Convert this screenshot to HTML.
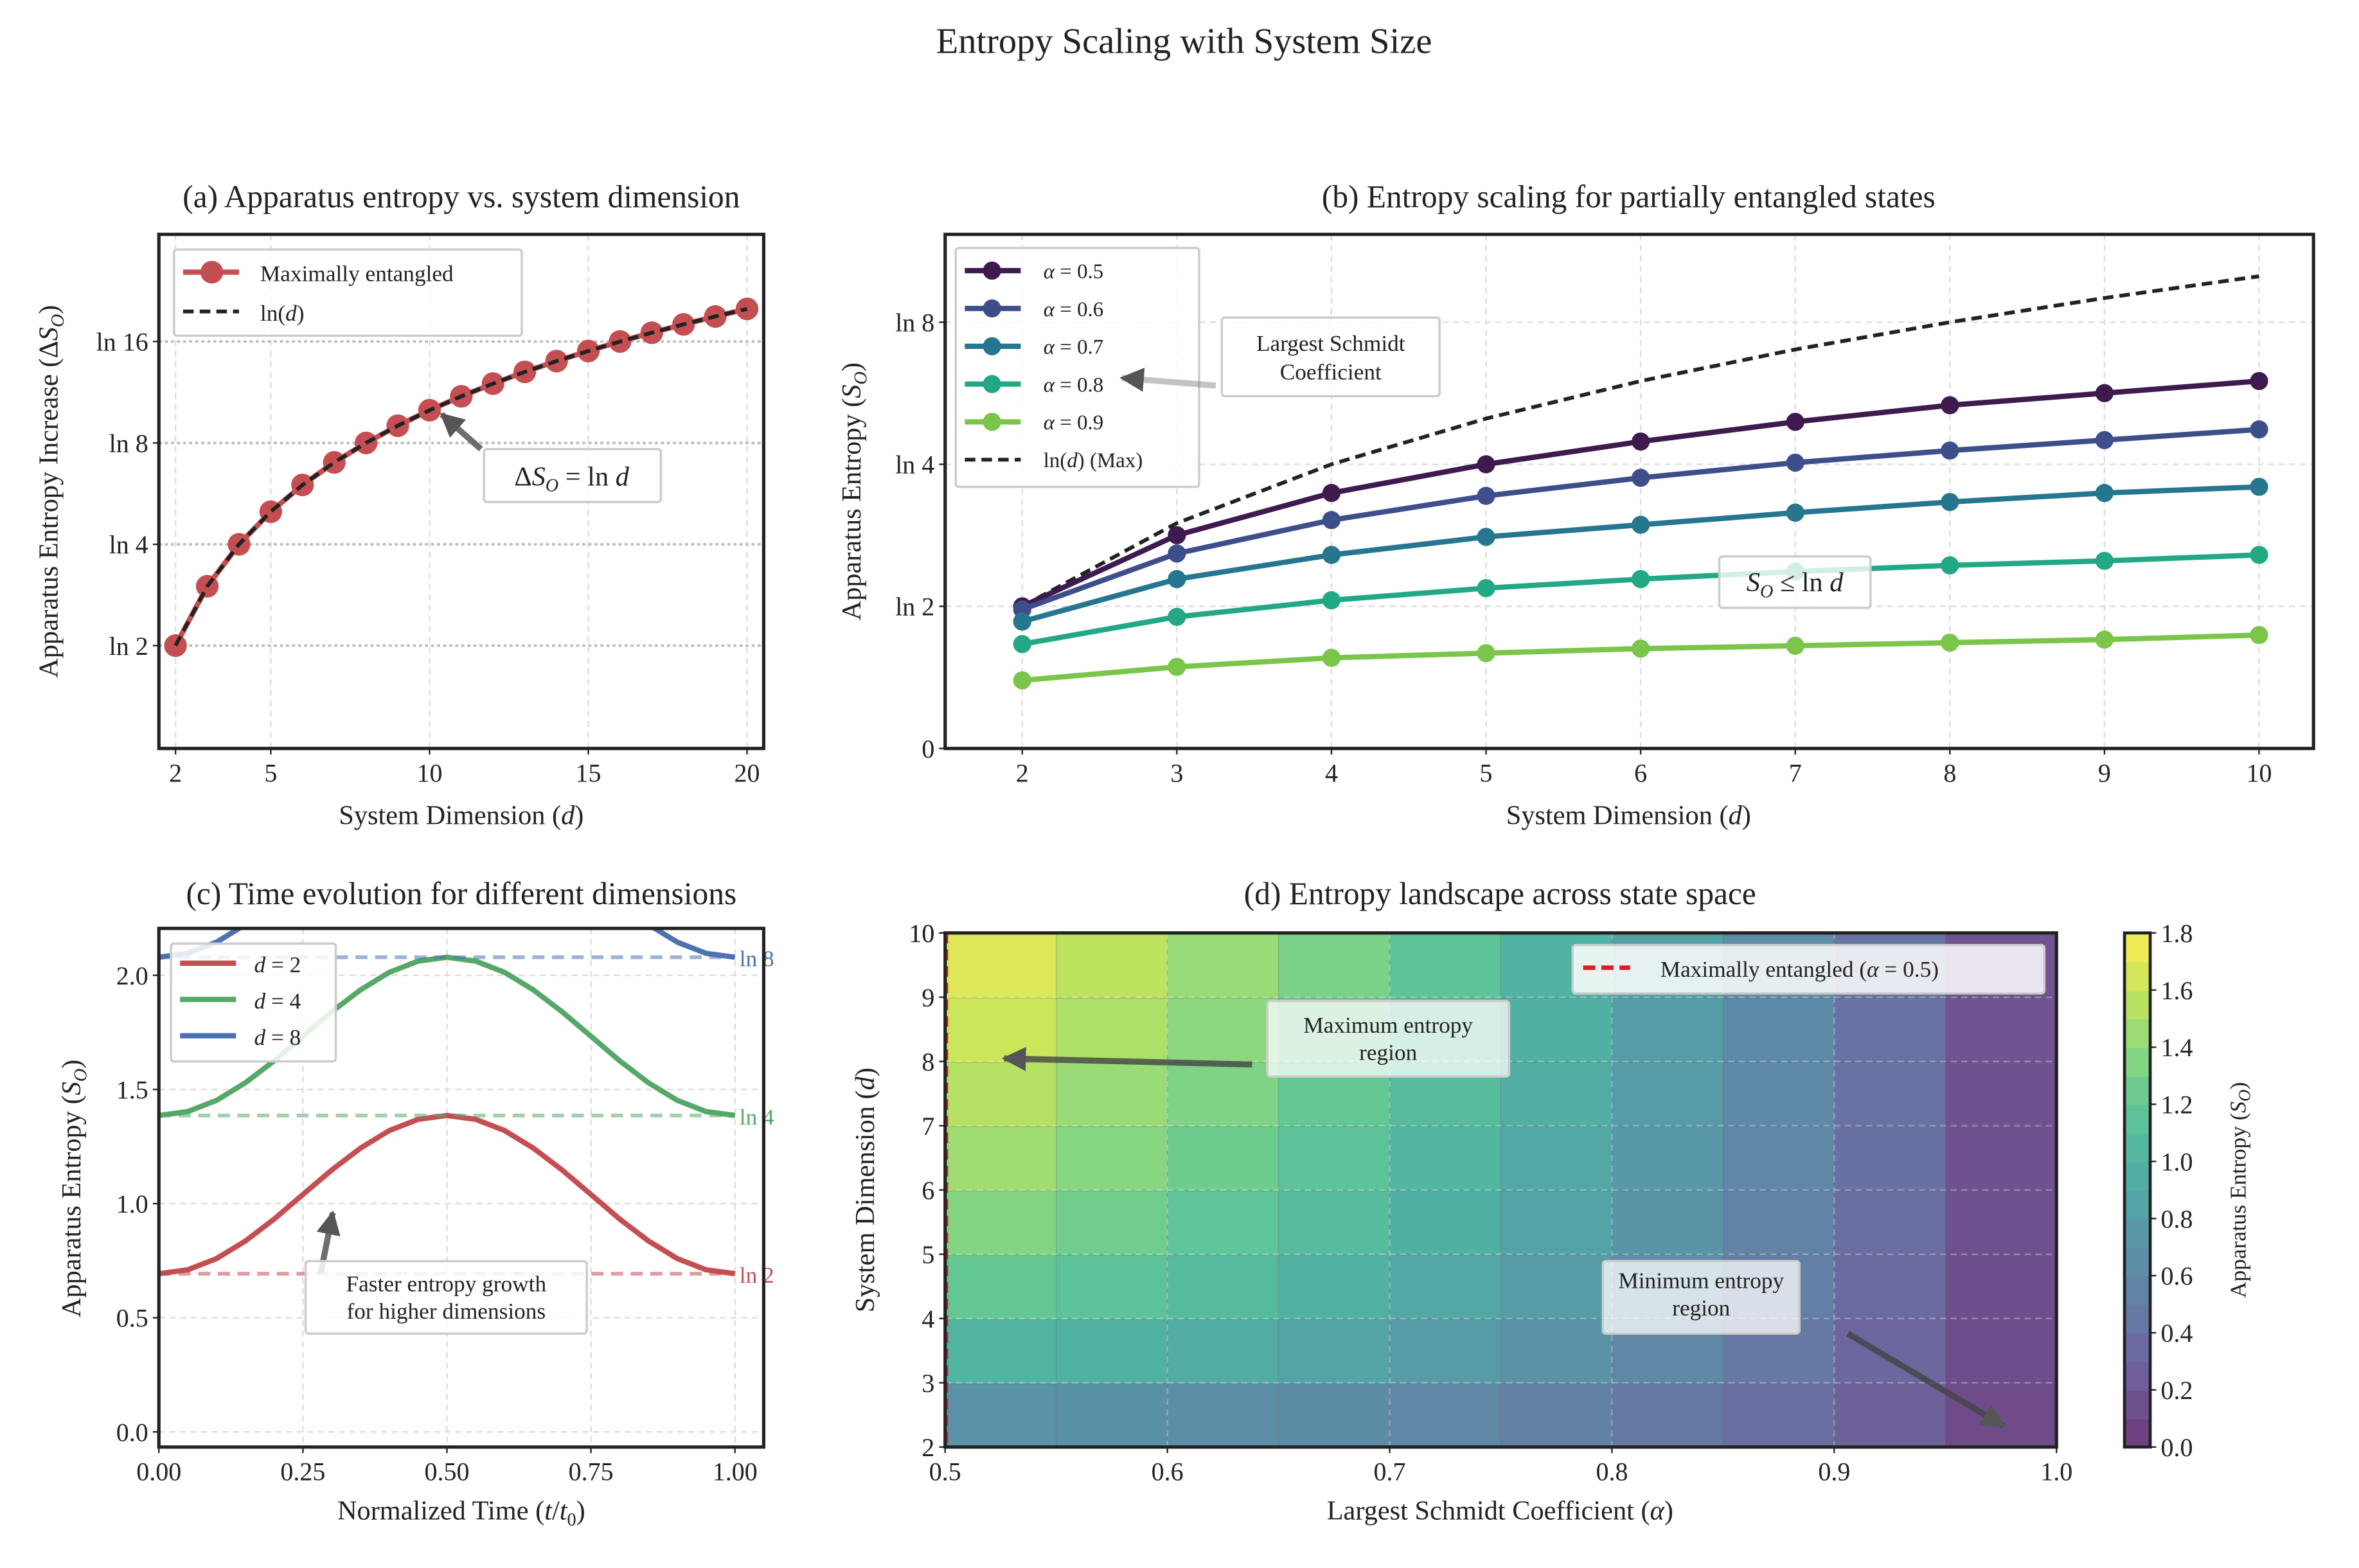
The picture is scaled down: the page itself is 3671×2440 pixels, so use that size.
<!DOCTYPE html>
<html><head><meta charset="utf-8"><style>
html,body{margin:0;padding:0;background:#fff}
svg{display:block}
text{font-family:"Liberation Serif",serif;fill:#222}
</style></head><body>
<svg id="fig" width="3671" height="2440" viewBox="0 0 1560 1037" xmlns="http://www.w3.org/2000/svg">
<defs>
<clipPath id="ca"><rect x="105" y="155" width="400" height="340"/></clipPath>
<clipPath id="cb"><rect x="625" y="155" width="905" height="340"/></clipPath>
<clipPath id="cc"><rect x="105" y="614" width="400" height="343"/></clipPath>
<marker id="ah" viewBox="0 0 10 10" refX="9" refY="5" markerWidth="4" markerHeight="4" orient="auto"><path d="M0,0L10,5L0,10z" fill="#555"/></marker>
</defs>
<text x="783" y="35" font-size="24" text-anchor="middle">Entropy Scaling with System Size</text>
<g id="root"></g>
</svg>
<script>
// Panel (a) data
const aDims=[2,3,4,5,6,7,8,9,10,11,12,13,14,15,16,17,18,19,20];
const aEntropy=[0.693,1.099,1.386,1.609,1.792,1.946,2.079,2.197,2.303,2.398,2.485,2.565,2.639,2.708,2.773,2.833,2.890,2.944,2.996];
const aYTicks=[0.693,1.386,2.079,2.773];
const aYLabels=["ln 2","ln 4","ln 8","ln 16"];
const aXTicks=[2,5,10,15,20];
// Panel (b) data
const bDims=[2,3,4,5,6,7,8,9,10];
const bAlphaLabels=["0.5","0.6","0.7","0.8","0.9"];
const bA05=[0.693,1.040,1.246,1.386,1.497,1.593,1.674,1.733,1.792];
const bA06=[0.678,0.951,1.114,1.232,1.320,1.394,1.453,1.504,1.556];
const bA07=[0.619,0.826,0.944,1.032,1.091,1.150,1.202,1.246,1.276];
const bA08=[0.509,0.642,0.723,0.782,0.826,0.863,0.893,0.915,0.944];
const bA09=[0.332,0.398,0.442,0.465,0.487,0.501,0.516,0.531,0.553];
const bMax=[0.693,1.099,1.386,1.609,1.792,1.946,2.079,2.197,2.303];
const bYTicks=[0,0.693,1.386,2.079];
const bYLabels=["0","ln 2","ln 4","ln 8"];
// Panel (c) data
const cTimes=[0,0.05,0.1,0.15,0.2,0.25,0.3,0.35,0.4,0.45,0.5,0.55,0.6,0.65,0.7,0.75,0.8,0.85,0.9,0.95,1];
const cD2=[0.693,0.710,0.759,0.836,0.932,1.040,1.147,1.243,1.320,1.369,1.386,1.369,1.320,1.243,1.147,1.040,0.932,0.836,0.759,0.710,0.693];
const cD4=[1.386,1.403,1.452,1.529,1.625,1.733,1.840,1.936,2.013,2.062,2.079,2.062,2.013,1.936,1.840,1.733,1.625,1.529,1.452,1.403,1.386];
const cD8=[2.079,2.096,2.145,2.222,2.318,2.426,2.533,2.629,2.706,2.755,2.772,2.755,2.706,2.629,2.533,2.426,2.318,2.222,2.145,2.096,2.079];
const cRefs=[0.693,1.386,2.079];
const cRefLabels=["ln 2","ln 4","ln 8"];
const cYTicks=[0,0.5,1.0,1.5,2.0];
const cXTicks=[0,0.25,0.5,0.75,1.0];
// Panel (d) data
const dAlphaEdges=[0.5,0.55,0.6,0.65,0.7,0.75,0.8,0.85,0.9,0.95,1.0];
const dDimEdges=[2,3,4,5,6,7,8,9,10];
const dRow2=[0.69,0.68,0.66,0.63,0.59,0.53,0.46,0.38,0.27,0.12];
const dRow3=[1.02,0.98,0.92,0.86,0.78,0.69,0.58,0.46,0.32,0.13];
const dRow4=[1.21,1.15,1.07,0.99,0.89,0.78,0.66,0.51,0.35,0.14];
const dRow5=[1.35,1.27,1.18,1.08,0.97,0.85,0.71,0.55,0.37,0.15];
const dRow6=[1.46,1.37,1.26,1.15,1.03,0.90,0.75,0.58,0.39,0.16];
const dRow7=[1.54,1.44,1.33,1.21,1.08,0.94,0.78,0.60,0.40,0.16];
const dRow8=[1.62,1.51,1.39,1.26,1.12,0.97,0.80,0.62,0.41,0.17];
const dRow9=[1.68,1.57,1.44,1.31,1.16,1.00,0.83,0.64,0.42,0.17];
const cbTicks=[0,0.2,0.4,0.6,0.8,1.0,1.2,1.4,1.6,1.8];

const NS="http://www.w3.org/2000/svg";
const root=document.getElementById('root');
function mk(tag,attrs,parent,txt){const e=document.createElementNS(NS,tag);for(const k in attrs)e.setAttribute(k,attrs[k]);if(txt!==undefined)e.textContent=txt;(parent||root).appendChild(e);return e;}
function grp(name){const g=mk('g',{});


return g;}

const axX=d=>116+(d-2)*21, ayY=v=>494-v*96.7;
const bxX=d=>676+(d-2)*102.25, byY=v=>495-v*135.6;
const cxX=t=>105+t*381, cyY=v=>947-v*151;
const dxX=a=>625+(a-0.5)*1470, dyY=d=>957-(d-2)*42.5;
const cbY=v=>957-v/1.8*340;

function frame(g,x,y,w,h){const r=mk('rect',{x:x,y:y,width:w,height:h,fill:'none',stroke:'#222','stroke-width':2.2},g);

}
function vgrid(g,x,y1,y2){mk('line',{x1:x,x2:x,y1:y1,y2:y2,stroke:'#ddd','stroke-width':1,'stroke-dasharray':'4,3'},g);}
function hgrid(g,y,x1,x2){mk('line',{x1:x1,x2:x2,y1:y,y2:y,stroke:'#ddd','stroke-width':1,'stroke-dasharray':'4,3'},g);}
function xtick(g,x,y,lab){mk('line',{x1:x,x2:x,y1:y,y2:y+4,stroke:'#222','stroke-width':1},g);const t=mk('text',{x:x,y:y+22,'font-size':17,'text-anchor':'middle'},g,lab);

}
function ytick(g,x,y,lab){mk('line',{x1:x-4,x2:x,y1:y,y2:y,stroke:'#222','stroke-width':1},g);const t=mk('text',{x:x-7,y:y+6,'font-size':17,'text-anchor':'end'},g,lab);

}
function title(g,x,y,s){const t=mk('text',{x:x,y:y,'font-size':21,'text-anchor':'middle'},g,s);

}
function xlabel(g,x,y,s){const t=mk('text',{x:x,y:y,'font-size':18,'text-anchor':'middle'},g);t.innerHTML=s;

}
function ylabel(g,x,y,s){const t=mk('text',{x:x,y:y,'font-size':18,'text-anchor':'middle',transform:`rotate(-90 ${x} ${y})`},g);t.innerHTML=s;

}
function poly(g,xs,ys,attrs){return mk('polyline',Object.assign({points:xs.map((x,i)=>x+','+ys[i]).join(' '),fill:'none'},attrs),g);}
function box(g,x,y,w,h,op){mk('rect',{x:x,y:y,width:w,height:h,fill:'#fff','fill-opacity':op||0.85,stroke:'#ccc','stroke-width':1.5,rx:2},g);}
function arrow(g,x1,y1,x2,y2,col,op){const l=mk('line',{x1:x1,y1:y1,x2:x2,y2:y2,stroke:col,'stroke-width':4,'stroke-opacity':op,'marker-end':'url(#ah)'},g);

}

// Panel A
{const g=grp('panel-a');
title(g,305,137,'(a) Apparatus entropy vs. system dimension');
aXTicks.forEach(d=>vgrid(g,axX(d),155,495));
aYTicks.forEach(v=>mk('line',{x1:105,x2:505,y1:ayY(v),y2:ayY(v),stroke:'#bbb','stroke-width':1.6,'stroke-dasharray':'2,2'},g));
const cg=mk('g',{'clip-path':'url(#ca)'},g);
const xs=aDims.map(axX), ys=aEntropy.map(ayY);
const s=poly(cg,xs,ys,{stroke:'#c44e52','stroke-width':3.5});


aDims.forEach((d,i)=>{const c=mk('circle',{cx:axX(d),cy:ayY(aEntropy[i]),r:7.5,fill:'#c44e52'},cg);

});
const ln=poly(cg,xs,aDims.map(d=>ayY(Math.log(d))),{stroke:'#222','stroke-width':2.5,'stroke-dasharray':'7,4'});


frame(g,105,155,400,340);
aXTicks.forEach(d=>xtick(g,axX(d),495,String(d)));
aYTicks.forEach((v,i)=>ytick(g,105,ayY(v),aYLabels[i]));
xlabel(g,305,545,'System Dimension (<tspan font-style="italic">d</tspan>)');
ylabel(g,38,325,'Apparatus Entropy Increase (Δ<tspan font-style="italic">S</tspan><tspan font-size="12" font-style="italic" dy="4">O</tspan><tspan dy="-4">)</tspan>');
const lg=grp('legend-a');g.appendChild(lg);
box(lg,115,165,230,57);
mk('line',{x1:121,x2:158,y1:180,y2:180,stroke:'#c44e52','stroke-width':3.5},lg);
mk('circle',{cx:140,cy:180,r:7.5,fill:'#c44e52'},lg);
mk('text',{x:172,y:186,'font-size':15},lg,'Maximally entangled');
mk('line',{x1:121,x2:158,y1:206,y2:206,stroke:'#222','stroke-width':2.5,'stroke-dasharray':'7,4'},lg);
mk('text',{x:172,y:212,'font-size':15},lg).innerHTML='ln(<tspan font-style="italic">d</tspan>)';
arrow(g,318,297,292,274,'#555',0.85);
const ag=grp('annotation-a');g.appendChild(ag);
box(ag,320,297,117,35);
mk('text',{x:378,y:321,'font-size':18,'text-anchor':'middle'},ag).innerHTML='Δ<tspan font-style="italic">S</tspan><tspan font-size="12" font-style="italic" dy="4">O</tspan><tspan dy="-4"> = ln </tspan><tspan font-style="italic">d</tspan>';
}

// Panel B
{const g=grp('panel-b');
title(g,1077,137,'(b) Entropy scaling for partially entangled states');
bDims.forEach(d=>vgrid(g,bxX(d),155,495));
bYTicks.forEach(v=>hgrid(g,byY(v),625,1530));
const cg=mk('g',{'clip-path':'url(#cb)'},g);
const mx=poly(cg,bDims.map(bxX),bMax.map(byY),{stroke:'#222','stroke-width':2.5,'stroke-dasharray':'7,4'});


const series=[bA05,bA06,bA07,bA08,bA09];
const cols2=['#3e1a4f','#3d4e8a','#25768e','#22a884','#7ac54a'];
series.forEach((vals,k)=>{
const p=poly(cg,bDims.map(bxX),vals.map(byY),{stroke:cols2[k],'stroke-width':3.5});


bDims.forEach((d,i)=>{const c=mk('circle',{cx:bxX(d),cy:byY(vals[i]),r:6,fill:cols2[k]},cg);

});
});
frame(g,625,155,905,340);
bDims.forEach(d=>xtick(g,bxX(d),495,String(d)));
bYTicks.forEach((v,i)=>ytick(g,625,byY(v),bYLabels[i]));
xlabel(g,1077,545,'System Dimension (<tspan font-style="italic">d</tspan>)');
ylabel(g,569,325,'Apparatus Entropy (<tspan font-style="italic">S</tspan><tspan font-size="12" font-style="italic" dy="4">O</tspan><tspan dy="-4">)</tspan>');
const lg=grp('legend-b');g.appendChild(lg);
box(lg,632,164,161,158);
series.forEach((v,k)=>{const y=179+k*25;
mk('line',{x1:638,x2:675,y1:y,y2:y,stroke:cols2[k],'stroke-width':3.5},lg);
mk('circle',{cx:656,cy:y,r:6,fill:cols2[k]},lg);
mk('text',{x:690,y:y+5,'font-size':14},lg).innerHTML='<tspan font-style="italic">α</tspan> = '+bAlphaLabels[k];});
mk('line',{x1:638,x2:675,y1:304,y2:304,stroke:'#222','stroke-width':2.5,'stroke-dasharray':'7,4'},lg);
mk('text',{x:690,y:309,'font-size':14},lg).innerHTML='ln(<tspan font-style="italic">d</tspan>) (Max)';
arrow(g,804,255,742,250,'#888',0.5);
const ag=grp('annotation-largest-schmidt');g.appendChild(ag);
box(ag,808,210,144,52);
mk('text',{x:880,y:232,'font-size':15,'text-anchor':'middle'},ag,'Largest Schmidt');
mk('text',{x:880,y:251,'font-size':15,'text-anchor':'middle'},ag,'Coefficient');
const bg=grp('annotation-bound');g.appendChild(bg);
box(bg,1137,368,100,34,0.8);
mk('text',{x:1187,y:391,'font-size':18,'text-anchor':'middle'},bg).innerHTML='<tspan font-style="italic">S</tspan><tspan font-size="12" font-style="italic" dy="4">O</tspan><tspan dy="-4"> ≤ ln </tspan><tspan font-style="italic">d</tspan>';
}

// Panel C
{const g=grp('panel-c');
title(g,305,598,'(c) Time evolution for different dimensions');
cXTicks.forEach(t=>vgrid(g,cxX(t),614,957));
cYTicks.forEach(v=>hgrid(g,cyY(v),105,505));
const cols=['#c44e52','#55a868','#4c72b0'];
const cg=mk('g',{'clip-path':'url(#cc)'},g);
cRefs.forEach((v,k)=>{const l=mk('line',{x1:105,x2:486,y1:cyY(v),y2:cyY(v),stroke:cols[k],'stroke-opacity':0.55,'stroke-width':2.5,'stroke-dasharray':'8,5'},g);


const t=mk('text',{x:489,y:cyY(v)+6,'font-size':15},g,cRefLabels[k]);t.style.fill=cols[k];

});
const names=['d2','d4','d8'];
[cD2,cD4,cD8].forEach((vals,k)=>{const p=mk('path',{d:'M'+cTimes.map((t,i)=>cxX(t)+','+cyY(vals[i])).join(' L'),fill:'none',stroke:cols[k],'stroke-width':3.5,'stroke-linejoin':'round'},cg);

});
frame(g,105,614,400,343);
cXTicks.forEach(t=>xtick(g,cxX(t),957,t.toFixed(2)));
cYTicks.forEach(v=>ytick(g,105,cyY(v),v.toFixed(1)));
xlabel(g,305,1005,'Normalized Time (<tspan font-style="italic">t</tspan>/<tspan font-style="italic">t</tspan><tspan font-size="12" dy="4">0</tspan><tspan dy="-4">)</tspan>');
ylabel(g,53,786,'Apparatus Entropy (<tspan font-style="italic">S</tspan><tspan font-size="12" font-style="italic" dy="4">O</tspan><tspan dy="-4">)</tspan>');
const lg=grp('legend-c');g.appendChild(lg);
box(lg,113,624,109,78);
['2','4','8'].forEach((s,k)=>{const y=637+k*24;
mk('line',{x1:119,x2:156,y1:y,y2:y,stroke:cols[k],'stroke-width':3.5},lg);
mk('text',{x:168,y:y+6,'font-size':15},lg).innerHTML='<tspan font-style="italic">d</tspan> = '+s;});
arrow(g,212,842,220,802,'#555',0.85);
const ag=grp('annotation-c');g.appendChild(ag);
box(ag,202,834,186,48);
mk('text',{x:295,y:854,'font-size':15,'text-anchor':'middle'},ag,'Faster entropy growth');
mk('text',{x:295,y:872,'font-size':15,'text-anchor':'middle'},ag,'for higher dimensions');
}

// Panel D
const VIR=[[68,1,84],[72,40,120],[62,74,137],[49,104,142],[38,130,142],[31,158,137],[53,183,121],[110,206,88],[181,222,43],[253,231,37]];
function viridis(v){const t=Math.max(0,Math.min(1,v/1.8))*(VIR.length-1);const i=Math.min(Math.floor(t),VIR.length-2);const f=t-i;
const c=VIR[i].map((a,j)=>a+(VIR[i+1][j]-a)*f).map(x=>Math.round(x*0.78+255*0.22));return `rgb(${c[0]},${c[1]},${c[2]})`;}
{const g=grp('panel-d');
title(g,992,598,'(d) Entropy landscape across state space');
const rows=[dRow2,dRow3,dRow4,dRow5,dRow6,dRow7,dRow8,dRow9];
rows.forEach((vals,r)=>{vals.forEach((v,c)=>{
const x0=dxX(dAlphaEdges[c]),x1=dxX(dAlphaEdges[c+1]),y0=dyY(dDimEdges[r]+1),y1=dyY(dDimEdges[r]);
const rc=mk('rect',{x:x0,y:y0,width:x1-x0+0.6,height:y1-y0+0.6,fill:viridis(v),stroke:'#666','stroke-opacity':0.25,'stroke-width':0.8},g);

});});
[0.6,0.7,0.8,0.9].forEach(a=>mk('line',{x1:dxX(a),x2:dxX(a),y1:617,y2:957,stroke:'#fff','stroke-opacity':0.3,'stroke-dasharray':'4,3'},g));
dDimEdges.forEach(d=>mk('line',{x1:625,x2:1360,y1:dyY(d),y2:dyY(d),stroke:'#fff','stroke-opacity':0.3,'stroke-dasharray':'4,3'},g));
const rl=mk('line',{x1:626,x2:626,y1:617,y2:957,stroke:'#e31a1c','stroke-width':2,'stroke-dasharray':'7,4'},g);


frame(g,625,617,735,340);
[0.5,0.6,0.7,0.8,0.9,1.0].forEach(a=>xtick(g,dxX(a),957,a.toFixed(1)));
dDimEdges.concat([10]).forEach(d=>ytick(g,625,dyY(d),String(d)));
xlabel(g,992,1005,'Largest Schmidt Coefficient (<tspan font-style="italic">α</tspan>)');
ylabel(g,578,787,'System Dimension (<tspan font-style="italic">d</tspan>)');
const lg=grp('legend-d');g.appendChild(lg);
box(lg,1040,625,312,32,0.85);
mk('line',{x1:1047,x2:1078,y1:640,y2:640,stroke:'#e31a1c','stroke-width':3,'stroke-dasharray':'8,4'},lg);
mk('text',{x:1098,y:646,'font-size':15},lg).innerHTML='Maximally entangled (<tspan font-style="italic">α</tspan> = 0.5)';
arrow(g,828,704,664,700,'#444',0.8);
const a1=grp('annotation-max-entropy');g.appendChild(a1);
box(a1,838,662,160,50,0.75);
mk('text',{x:918,y:683,'font-size':15,'text-anchor':'middle'},a1,'Maximum entropy');
mk('text',{x:918,y:701,'font-size':15,'text-anchor':'middle'},a1,'region');
arrow(g,1222,882,1325,943,'#444',0.8);
const a2=grp('annotation-min-entropy');g.appendChild(a2);
box(a2,1060,834,130,48,0.75);
mk('text',{x:1125,y:852,'font-size':15,'text-anchor':'middle'},a2,'Minimum entropy');
mk('text',{x:1125,y:870,'font-size':15,'text-anchor':'middle'},a2,'region');
const cb=grp('colorbar');g.appendChild(cb);
for(let i=0;i<18;i++){const v=i*0.1;mk('rect',{x:1405,y:cbY(v+0.1),width:17,height:340/18+0.6,fill:viridis(v+0.05)},cb);}
mk('rect',{x:1405,y:617,width:17,height:340,fill:'none',stroke:'#222','stroke-width':2},cb);
cbTicks.forEach(v=>{mk('line',{x1:1422,x2:1426,y1:cbY(v),y2:cbY(v),stroke:'#222'},cb);
const t=mk('text',{x:1429,y:cbY(v)+6,'font-size':17},cb,v.toFixed(1));

});
const cl=mk('text',{x:1485,y:787,'font-size':15,'text-anchor':'middle',transform:'rotate(-90 1485 787)'},cb);
cl.innerHTML='Apparatus Entropy (<tspan font-style="italic">S</tspan><tspan font-size="11" font-style="italic" dy="3">O</tspan><tspan dy="-3">)</tspan>';


}
</script>
</body></html>
